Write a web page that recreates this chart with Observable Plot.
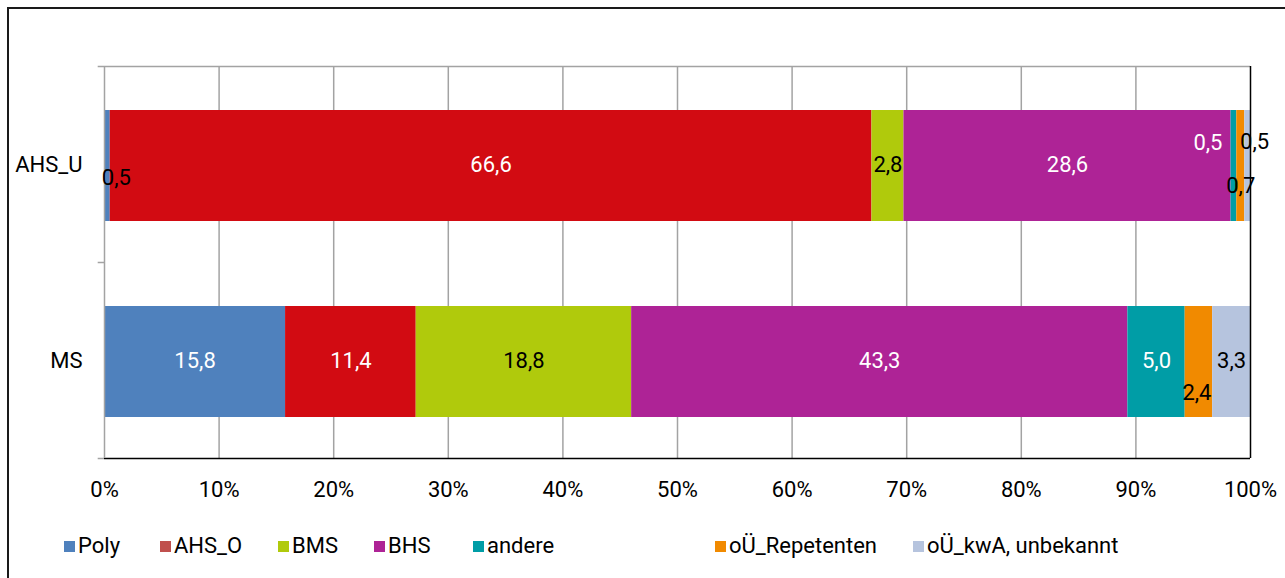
<!DOCTYPE html>
<html>
<head>
<meta charset="utf-8">
<script src="https://cdn.jsdelivr.net/npm/d3@7"></script>
<script src="https://cdn.jsdelivr.net/npm/@observablehq/plot@0.6"></script>
<style>
  html, body { margin: 0; padding: 0; background: #fff; }
  body { width: 1285px; height: 578px; overflow: hidden; position: relative;
         font-family: "Roboto", sans-serif; }
  #frame { position: absolute; left: 7px; top: 7px; width: 1300px; height: 600px;
           border-left: 2px solid #1a1a1a; border-top: 2px solid #1a1a1a; box-sizing: border-box; }
  #chart { position: absolute; left: 0; top: 0; }
  .item { position: absolute; top: 533px; font-size: 22px; line-height: 26px; white-space: nowrap; color: #000; }
  .sw { position: absolute; left: 0; top: 8px; width: 11px; height: 11px; }
  .lbl { position: absolute; left: 14px; top: 0; }
</style>
</head>
<body>
<div id="frame"></div>
<div id="chart"></div>
<div id="legend"></div>
<script>
// ---- data ----
const categories = ["AHS_U", "MS"];
const series = ["Poly", "AHS_O", "BMS", "BHS", "andere", "oÜ_Repetenten", "oÜ_kwA, unbekannt"];
const valuesAHS_U = [0.5, 66.6, 2.8, 28.6, 0.5, 0.7, 0.5];
const valuesMS = [15.8, 11.4, 18.8, 43.3, 5.0, 2.4, 3.3];
const xTicks = [0, 0.1, 0.2, 0.3, 0.4, 0.5, 0.6, 0.7, 0.8, 0.9, 1];
const barColors = ["#4F81BD", "#D20B12", "#B0CA0C", "#AE2396", "#009DA6", "#F18A00", "#B6C4DE"];
const legendColors = ["#4F81BD", "#C0504D", "#B0CA0C", "#AE2396", "#009DA6", "#F18A00", "#B6C4DE"];

const valuesByCategory = [valuesAHS_U, valuesMS];
const rows = categories.flatMap((c, i) =>
  series.map((s, j) => ({category: c, series: s, value: valuesByCategory[i][j]})));

const fmt = v => v.toFixed(1).replace(".", ",");
const darkText = new Set(["BMS", "oÜ_Repetenten", "oÜ_kwA, unbekannt"]);
const FONT = '"Roboto", sans-serif';

// label placement (layout only)
const special = [
  {category: "AHS_U", series: "Poly", fill: "black", dx: 9, dy: 13},
  {category: "AHS_U", series: "andere", fill: "white", dx: -26, dy: -22},
  {category: "AHS_U", series: "oÜ_Repetenten", fill: "black", dx: 0, dy: 21},
  {category: "AHS_U", series: "oÜ_kwA, unbekannt", fill: "black", dx: 7, dy: -23},
  {category: "MS", series: "oÜ_Repetenten", fill: "black", dx: -2, dy: 32}
];
const isSpecial = d => special.some(s => s.category === d.category && s.series === d.series);

const half = (458 - 66) / 2 / 2; // half band height in px

function labels(textFn, fill, dx = 0, dy = 0) {
  return Plot.text(rows, Plot.stackX({
    x: "value", y: "category", z: "series", offset: "normalize",
    text: textFn, fill, dx, dy, fontSize: 22, fontFamily: FONT
  }));
}

const marks = [
  Plot.ruleX(xTicks.filter(d => d > 0 && d < 1), {stroke: "#a3a3a3", strokeWidth: 1.5}),
  Plot.barX(rows, Plot.stackX({
    x: "value", y: "category", z: "series", fill: "series", offset: "normalize",
    insetTop: 44, insetBottom: 41
  })),
  // plot-area border
  Plot.ruleY(["AHS_U"], {y: d => d, dy: -half, x1: 0, x2: 1, stroke: "#a3a3a3", strokeWidth: 1.5}),
  Plot.ruleY(["MS"], {y: d => d, dy: half, x1: 0, x2: 1, stroke: "#000", strokeWidth: 1.5}),
  Plot.ruleX([1], {stroke: "#000", strokeWidth: 1.5}),
  Plot.ruleX([0], {stroke: "#a3a3a3", strokeWidth: 1.5}),
  // y ticks at category boundaries
  Plot.ruleY(categories, {y: d => d, dy: -half, x1: -0.0055, x2: 0, stroke: "#a3a3a3", strokeWidth: 1.5}),
  Plot.ruleY(["MS"], {y: d => d, dy: half, x1: -0.0055, x2: 0, stroke: "#a3a3a3", strokeWidth: 1.5}),
  Plot.axisX({ticks: xTicks, tickFormat: d => Math.round(d * 100) + "%", tickSize: 0, tickPadding: 23,
              label: null, fontSize: 22, fontFamily: FONT}),
  Plot.axisY({tickSize: 0, tickPadding: 22, label: null, fontSize: 22, fontFamily: FONT}),
  labels(d => !isSpecial(d) && !darkText.has(d.series) ? fmt(d.value) : null, "white"),
  labels(d => !isSpecial(d) && darkText.has(d.series) ? fmt(d.value) : null, "black"),
  ...special.map(s => labels(d => d.category === s.category && d.series === s.series ? fmt(d.value) : null,
                              s.fill, s.dx, s.dy))
];

const chart = Plot.plot({
  width: 1285, height: 515,
  marginLeft: 104, marginRight: 35, marginTop: 66, marginBottom: 57,
  style: {fontFamily: FONT, fontSize: "22px", color: "#000", background: "transparent", overflow: "visible"},
  x: {domain: [0, 1]},
  y: {domain: categories, padding: 0},
  color: {domain: series, range: barColors},
  marks
});
document.getElementById("chart").appendChild(chart);

// legend
const legendLefts = [64, 160, 278, 374, 473, 715, 913];
const legend = document.getElementById("legend");
series.forEach((s, i) => {
  const item = document.createElement("div");
  item.className = "item";
  item.style.left = legendLefts[i] + "px";
  const sw = document.createElement("span");
  sw.className = "sw";
  sw.style.background = legendColors[i];
  const lbl = document.createElement("span");
  lbl.className = "lbl";
  lbl.textContent = s;
  item.appendChild(sw);
  item.appendChild(lbl);
  legend.appendChild(item);
});
</script>
</body>
</html>
